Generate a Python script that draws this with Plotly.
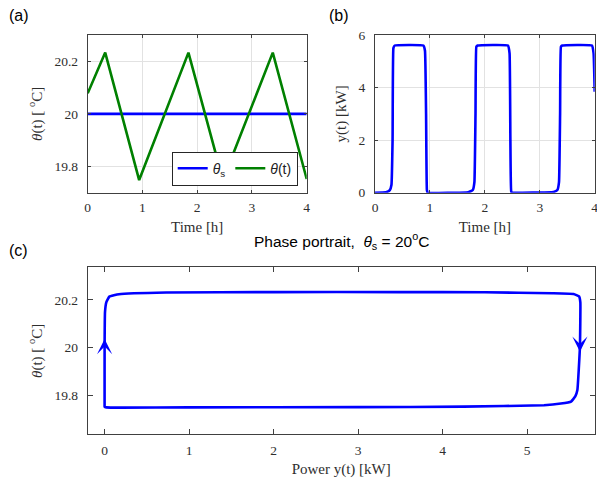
import plotly.graph_objects as go

# ---- data ----
time_theta = [0.0, 0.32, 0.94, 1.84, 2.47, 3.38, 4.0]
theta_vals = [20.078, 20.233, 19.748, 20.233, 19.748, 20.233, 19.752]

time_sp = [0.0, 4.0]
theta_sp = [20.0, 20.0]

time_pow = [0.0, 0.2, 0.27, 0.30, 0.32, 0.335, 0.36, 0.88, 0.91, 0.93, 0.945, 0.96,
            1.70, 1.78, 1.81, 1.83, 1.845, 1.87, 2.42, 2.45, 2.465, 2.48, 2.50,
            3.25, 3.32, 3.35, 3.37, 3.385, 3.41, 3.95, 3.98, 4.0]
pow_vals = [0.0, 0.02, 0.1, 0.3, 2.0, 5.5, 5.6, 5.6, 5.4, 3.0, 0.1, 0.0,
            0.02, 0.1, 0.4, 3.0, 5.55, 5.6, 5.6, 5.3, 2.0, 0.05, 0.0,
            0.03, 0.1, 0.4, 3.0, 5.55, 5.6, 5.6, 5.3, 3.84]

pp_power = [0.0, 0.0, 0.005, 0.02, 0.056, 0.17, 0.73, 2.0, 3.5, 4.5, 5.3, 5.55,
            5.615, 5.63, 5.625, 5.595, 5.57, 5.52, 5.4, 5.2, 4.25, 3.0, 1.0, 0.2, 0.02, 0.0, 0.0]
pp_theta = [19.76, 20.0, 20.15, 20.19, 20.214, 20.224, 20.231, 20.233, 20.233, 20.232, 20.228, 20.225,
            20.215, 20.19, 20.0, 19.822, 19.795, 19.773, 19.765, 19.758, 19.752, 19.75, 19.749, 19.748, 19.749, 19.752, 19.76]

# direction arrows on the phase portrait: tip and tail points
arrow_power = [0.0, 5.625]
arrow_tip_theta = [20.036, 19.983]
arrow_tail_theta = [20.0, 20.02]

x_ticks_t = [0, 1, 2, 3, 4]
y_ticks_theta = [19.8, 20.0, 20.2]
y_ticktext_theta = ["19.8", "20", "20.2"]
y_ticks_pow = [0, 2, 4, 6]
x_ticks_pp = [0, 1, 2, 3, 4, 5]

BLUE = "rgb(0,0,255)"
GREEN = "rgb(0,128,0)"
AX = "#404040"
TXT = "#2e2e2e"
GRID = "#e2e2e2"
SERIF = "Liberation Serif"
SANS = "Liberation Sans"
LW = 2.6

fig = go.Figure()

fig.add_trace(go.Scatter(x=time_sp, y=theta_sp, mode="lines", line=dict(color=BLUE, width=LW),
                         name="<i>θ</i><sub>s</sub>", xaxis="x", yaxis="y"))
fig.add_trace(go.Scatter(x=time_theta, y=theta_vals, mode="lines", line=dict(color=GREEN, width=LW),
                         name="<i>θ</i>(t)", xaxis="x", yaxis="y"))
fig.add_trace(go.Scatter(x=time_pow, y=pow_vals, mode="lines", line=dict(color=BLUE, width=LW, shape="spline", smoothing=0.3),
                         showlegend=False, xaxis="x2", yaxis="y2"))
fig.add_trace(go.Scatter(x=pp_power, y=pp_theta, mode="lines", line=dict(color=BLUE, width=LW, shape="spline", smoothing=0.3),
                         showlegend=False, xaxis="x3", yaxis="y3"))

W, H = 597, 478
def fx(p): return p / W
def fy(p): return 1 - p / H

tickfont = dict(family=SERIF, size=13.5, color=TXT)
titlefont = dict(family=SERIF, size=15, color=TXT)

common = dict(showline=True, linecolor=AX, linewidth=1, mirror="ticks", ticks="inside",
              tickcolor=AX, tickfont=tickfont, zeroline=False, automargin=False,
              ticklabeloverflow="allow")

fig.update_layout(
    width=W, height=H, margin=dict(l=0, r=0, t=0, b=0, autoexpand=False),
    paper_bgcolor="white", plot_bgcolor="white",
    xaxis=dict(domain=[fx(87.7), fx(306.7)], anchor="y", range=[0, 4], tickvals=x_ticks_t,
               showgrid=True, gridcolor=GRID, ticklen=3, ticklabelstandoff=2,
               title=dict(text="Time [h]", font=titlefont, standoff=7), **common),
    yaxis=dict(domain=[fy(192.7), fy(35)], anchor="x", range=[19.7, 20.3], tickvals=y_ticks_theta,
               ticktext=y_ticktext_theta, showgrid=True, gridcolor=GRID, ticklen=3, ticklabelstandoff=6,
               title=dict(text="<i>θ</i>(t) [ <sup>o</sup>C]", font=titlefont, standoff=8), **common),
    xaxis2=dict(domain=[fx(375), fx(594.7)], anchor="y2", range=[0, 4], tickvals=x_ticks_t,
                showgrid=True, gridcolor=GRID, ticklen=3, ticklabelstandoff=2,
                title=dict(text="Time [h]", font=titlefont, standoff=7), **common),
    yaxis2=dict(domain=[fy(192.7), fy(35)], anchor="x2", range=[0, 6], tickvals=y_ticks_pow,
                showgrid=True, gridcolor=GRID, ticklen=3, ticklabelstandoff=6,
                title=dict(text="y(t) [kW]", font=titlefont, standoff=8), **common),
    xaxis3=dict(domain=[fx(87.7), fx(594.7)], anchor="y3", range=[-0.2, 5.8], tickvals=x_ticks_pp,
                showgrid=False, ticklen=5, ticklabelstandoff=3,
                title=dict(text="Power y(t) [kW]", font=titlefont, standoff=7), **common),
    yaxis3=dict(domain=[fy(434.3), fy(267.3)], anchor="x3", range=[19.636, 20.337], tickvals=y_ticks_theta,
                ticktext=y_ticktext_theta, showgrid=False, ticklen=5, ticklabelstandoff=6,
                title=dict(text="<i>θ</i>(t) [ <sup>o</sup>C]", font=titlefont, standoff=8), **common),
    legend=dict(orientation="h", x=fx(171.7), y=fy(151.7), xanchor="left", yanchor="top",
                bgcolor="white", bordercolor="#262626", borderwidth=1,
                font=dict(family=SANS, size=14, color="#222"), itemwidth=30,
                tracegroupgap=0),
    showlegend=True,
)

annots = [
    dict(text="(a)", x=fx(7), y=fy(15), xanchor="left", yanchor="middle"),
    dict(text="(b)", x=fx(327), y=fy(15), xanchor="left", yanchor="middle"),
    dict(text="(c)", x=fx(7), y=fy(250), xanchor="left", yanchor="middle"),
]
for a in annots:
    fig.add_annotation(xref="paper", yref="paper", showarrow=False,
                       font=dict(family=SANS, size=16, color="black"), **a)

fig.add_annotation(xref="paper", yref="paper", x=fx(341), y=fy(241), xanchor="center", yanchor="middle",
                   showarrow=False, text="Phase portrait,  <i>θ</i><sub>s</sub> = 20<sup>o</sup>C",
                   font=dict(family=SANS, size=15.5, color="black"))

for px_, tip, tail in zip(arrow_power, arrow_tip_theta, arrow_tail_theta):
    fig.add_annotation(xref="x3", yref="y3", axref="x3", ayref="y3",
                       x=px_, y=tip, ax=px_, ay=tail, text="", showarrow=True,
                       arrowhead=3, arrowsize=1.15, arrowwidth=2.2, arrowcolor=BLUE, standoff=0)

fig.write_html("out.html", config={"displayModeBar": False},
               post_script="document.body.style.margin='0';document.body.style.padding='0';document.body.style.overflow='hidden';")
